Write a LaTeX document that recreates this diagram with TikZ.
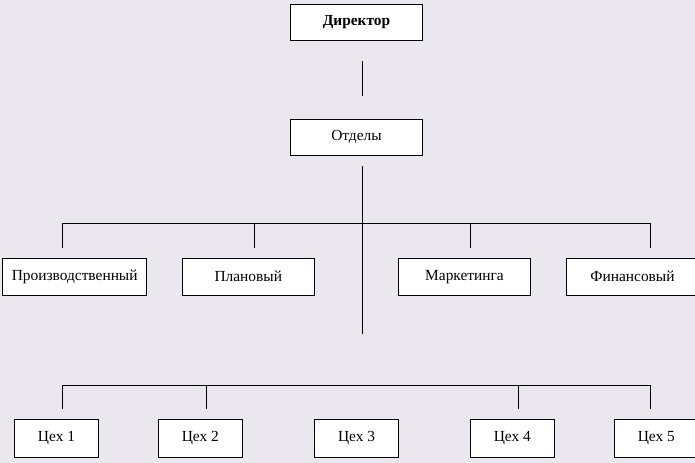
\documentclass[tikz,border=0pt]{standalone}
\usepackage{fontspec}
\setmainfont{Liberation Serif}
\definecolor{bgc}{RGB}{234,232,238}
\begin{document}
\begin{tikzpicture}[x=1bp,y=-1bp,
  box/.style={draw=black,fill=white,line width=1.2bp,inner sep=0pt,minimum height=36bp,
    font=\fontsize{15.4bp}{18bp}\selectfont},
  dept/.style={box,minimum width=132bp,minimum height=37bp},
  shop/.style={box,minimum width=84bp,minimum height=38bp},
  conn/.style={draw=black,line width=1.2bp}]
\useasboundingbox[fill=bgc] (0,0) rectangle (695,463);
% boxes
\node[box,minimum width=132bp] (dir) at (356.5,22.3) {\textbf{Директор}};
\node[box,minimum width=132bp] (otd) at (356.5,137.3) {Отделы};
\node[dept,minimum width=144bp] (prod) at (74.7,276.8) {\raisebox{3bp}{Производственный}};
\node[dept] (plan) at (248.3,276.8) {Плановый};
\node[dept] (mark) at (464.5,276.8) {Маркетинга};
\node[dept] (fin) at (632.5,276.8) {Финансовый};
\node[shop] (c1) at (56.5,438.3) {Цех 1};
\node[shop] (c2) at (200.3,438.3) {Цех 2};
\node[shop] (c3) at (356.5,438.3) {Цех 3};
\node[shop] (c4) at (512.3,438.3) {Цех 4};
\node[shop] (c5) at (656.3,438.3) {Цех 5};
% connector points
\coordinate (a1) at (362.5,61);
\coordinate (a2) at (362.5,95.7);
\coordinate (b1) at (362.5,166);
\coordinate (b2) at (362.5,334.3);
\coordinate (hL) at (62.5,223.5);
\coordinate (hR) at (650.5,223.5);
\coordinate (s1) at (62.5,247.7);
\coordinate (s2) at (254.5,247.7);
\coordinate (s3) at (470.5,247.7);
\coordinate (s4) at (650.5,247.7);
\coordinate (gL) at (62.5,385.5);
\coordinate (gR) at (650.5,385.5);
\coordinate (t1) at (62.5,409.3);
\coordinate (t2) at (206.5,409.3);
\coordinate (t4) at (518.5,409.3);
\coordinate (t5) at (650.5,409.3);
% connectors
\draw[conn] (a1) -- (a2);
\draw[conn] (b1) -- (b2);
\draw[conn] (s1) -- (hL) -- (hR) -- (s4);
\draw[conn] (s2) -- (s2 |- hL);
\draw[conn] (s3) -- (s3 |- hL);
\draw[conn] (t1) -- (gL) -- (gR) -- (t5);
\draw[conn] (t2) -- (t2 |- gL);
\draw[conn] (t4) -- (t4 |- gL);
\end{tikzpicture}
\end{document}
